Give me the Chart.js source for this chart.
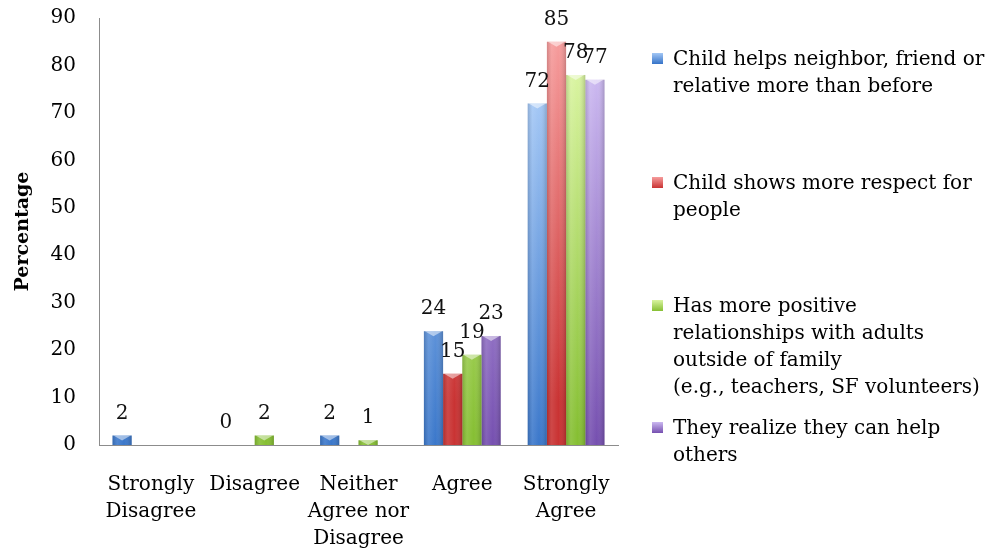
<!DOCTYPE html>
<html>
<head>
<meta charset="utf-8">
<title>Child behaviour survey</title>
<script src="https://cdn.jsdelivr.net/npm/chart.js@4.4.1/dist/chart.umd.min.js"></script>
<style>
  body { margin: 0; background: #fff; }
  #wrap { position: relative; width: 987px; height: 558px; }
  #legend { position: absolute; left: 0; top: 0; font-family: "DejaVu Serif", serif; font-size: 20px; line-height: 27px; color: #000; }
  .item { position: absolute; left: 673px; white-space: nowrap; }
  .item i { position: absolute; left: -21px; top: 8px; width: 11px; height: 11px; }
</style>
</head>
<body>
<div id="wrap">
  <canvas id="grafica" width="987" height="558"></canvas>
  <div id="legend"></div>
</div>
<script>
// categories on the x axis (arrays = wrapped lines)
const categorias = [["Strongly", "Disagree"], "Disagree", ["Neither", "Agree nor", "Disagree"], "Agree", ["Strongly", "Agree"]];

// series names, one line per entry
const nombres = [
  ["Child helps neighbor, friend or", "relative more than before"],
  ["Child shows more respect for", "people"],
  ["Has more positive", "relationships with adults", "outside of family", "(e.g., teachers, SF volunteers)"],
  ["They realize they can help", "others"]
];

// percentages (null = no bar)
const ayudaVecinos = [2, 0, 2, 24, 72];
const respeto = [null, null, null, 15, 85];
const relacionesAdultos = [null, 2, 1, 19, 78];
const puedenAyudar = [null, null, null, 23, 77];

const yTicks = [0, 10, 20, 30, 40, 50, 60, 70, 80, 90];

// light (top) and dark (bottom) tone for each series
const tonos = [
  ["#a3c7f5", "#3573c8"],
  ["#f69c9c", "#c93333"],
  ["#d9f4a0", "#86bf33"],
  ["#cbb8f0", "#7650b0"]
];

const fuente = '"DejaVu Serif", serif';
Chart.defaults.font.family = fuente;
Chart.defaults.color = "#000";

// gradient fill, side shading, top bevel and value labels
const estiloBarras = {
  id: "estiloBarras",
  beforeDatasetsDraw(chart) {
    const ctx = chart.ctx;
    chart.data.datasets.forEach((ds, i) => {
      chart.getDatasetMeta(i).data.forEach((bar, j) => {
        if (ds.data[j] == null) return;
        const g = ctx.createLinearGradient(0, bar.y, 0, bar.y + 360);
        g.addColorStop(0, tonos[i][0]);
        g.addColorStop(1, tonos[i][1]);
        bar.options.backgroundColor = g;
      });
    });
  },
  afterDatasetsDraw(chart) {
    const ctx = chart.ctx;
    ctx.save();
    chart.data.datasets.forEach((ds, i) => {
      chart.getDatasetMeta(i).data.forEach((bar, j) => {
        const v = ds.data[j];
        if (v == null) return;
        const izq = bar.x - bar.width / 2;
        const der = bar.x + bar.width / 2;
        const alto = bar.base - bar.y;
        if (alto > 0) {
          const lado = ctx.createLinearGradient(izq, 0, der, 0);
          lado.addColorStop(0, "rgba(0,0,0,0.14)");
          lado.addColorStop(0.25, "rgba(255,255,255,0.1)");
          lado.addColorStop(0.6, "rgba(255,255,255,0)");
          lado.addColorStop(1, "rgba(0,0,0,0.18)");
          ctx.fillStyle = lado;
          ctx.fillRect(izq, bar.y, bar.width, alto);
          const b = Math.min(5, alto);
          ctx.fillStyle = "rgba(255,255,255,0.5)";
          ctx.beginPath();
          ctx.moveTo(izq + 1, bar.y);
          ctx.lineTo(der - 1, bar.y);
          ctx.lineTo(bar.x, bar.y + b);
          ctx.closePath();
          ctx.fill();
        }
        ctx.fillStyle = "#111";
        ctx.font = "20px " + fuente;
        ctx.textAlign = "center";
        ctx.textBaseline = "middle";
        ctx.fillText(v, bar.x, bar.y - 22);
      });
    });
    ctx.restore();
  }
};

const series = [ayudaVecinos, respeto, relacionesAdultos, puedenAyudar];

new Chart(document.querySelector("#grafica"), {
  type: "bar",
  data: {
    labels: categorias,
    datasets: series.map((d, i) => ({
      label: nombres[i].join(" "),
      data: d,
      backgroundColor: tonos[i][1],
      borderWidth: 0,
      barPercentage: 1,
      categoryPercentage: 0.74
    }))
  },
  options: {
    responsive: false,
    animation: false,
    layout: { padding: { left: 0, top: 18, right: 369, bottom: 0 } },
    plugins: { legend: { display: false }, tooltip: { enabled: false } },
    scales: {
      x: {
        grid: { display: false },
        border: { color: "#8c8c8c", width: 1 },
        ticks: { font: { size: 20, lineHeight: 1.35 }, padding: 18, maxRotation: 0, autoSkip: false },
        afterFit(scale) { scale.height = 113; }
      },
      y: {
        min: 0,
        max: 90,
        grid: { display: false },
        border: { color: "#8c8c8c", width: 1 },
        afterBuildTicks(scale) { scale.ticks = yTicks.map(v => ({ value: v })); },
        ticks: { font: { size: 20 }, padding: 15 },
        title: { display: true, text: "Percentage", font: { size: 19, weight: "bold" }, padding: { top: 12, bottom: 0 } },
        afterFit(scale) {
          scale.width = 99;
          scale.paddingTop = 0;
          scale.paddingBottom = 0;
        }
      }
    }
  },
  plugins: [estiloBarras]
});

// legend on the right, entries spaced evenly
const legendTops = [45, 169, 292, 414];
const $legend = document.querySelector("#legend");
nombres.forEach((lineas, i) => {
  const item = document.createElement("div");
  item.className = "item";
  item.style.top = legendTops[i] + "px";
  const marca = document.createElement("i");
  marca.style.background = "linear-gradient(" + tonos[i][0] + "," + tonos[i][1] + ")";
  item.appendChild(marca);
  lineas.forEach((t, k) => {
    if (k) item.appendChild(document.createElement("br"));
    item.appendChild(document.createTextNode(t));
  });
  $legend.appendChild(item);
});
</script>
</body>
</html>
